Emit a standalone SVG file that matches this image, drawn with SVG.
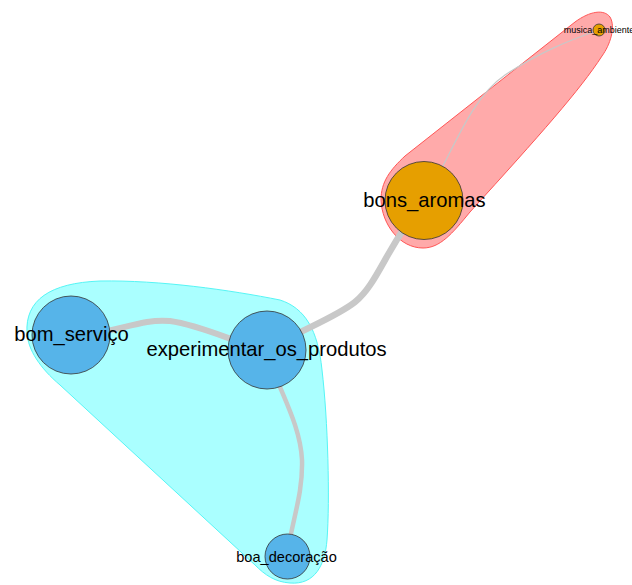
<svg xmlns="http://www.w3.org/2000/svg" width="632" height="585" viewBox="0 0 632 585">
<style>
.hull-blue{fill:#AAFFFF;stroke:#55F5F5;stroke-width:1}
.hull-red{fill:#FFAAAA;stroke:#FF5555;stroke-width:1}
.edge{fill:none;stroke:#C8C8C8;stroke-linecap:butt}
.node-blue{fill:#56B4E9;stroke:#333;stroke-width:0.8}
.node-orange{fill:#E69F00;stroke:#333;stroke-width:0.8}
.lbl{font-family:"Liberation Sans",Arial,sans-serif;fill:#000;text-anchor:middle}
</style>
<rect width="632" height="585" fill="#FFFFFF"/>
<g id="hulls">
<path class="hull-blue" d="M27,333 C25,300 50,283 100,281 C160,280 230,290 280,300 C305,308 318,330 322,370 C328,420 330,500 327,540 C325,565 315,585 290,583 C275,582 265,575 255,565 L60,385 C40,368 28,350 27,333 Z"/>
<path class="hull-red" d="M381,200 C381,182 390,170 405,156 L575,22 C590,11 604,9 610,17 C616,27 610,45 602,56 C580,90 540,135 470,212 C452,234 440,248 423,248 C400,248 382,225 381,200 Z"/>
</g>
<g id="connectors">
<path class="edge" stroke-width="6" d="M72,336 C115,334 140,318 170,321 C205,326 240,345 267,350"/>
<path class="edge" stroke-width="6.5" d="M267,350 C300,330 335,318 355,302 C378,283 385,250 424,200"/>
<path class="edge" stroke-width="4.5" d="M267,350 C275,385 300,420 302,460 C303,495 292,520 287,556"/>
<path class="edge" stroke-width="1.3" stroke="#D0D0D0" d="M424,200 C450,160 468,100 505,75 C540,52 570,40 599,30"/>
</g>
<g id="node-bom_servico">
<circle class="node-blue" cx="71" cy="335" r="39"/>
<text class="lbl" x="71.5" y="341" font-size="20.2">bom_serviço</text>
</g>
<g id="node-experimentar_os_produtos">
<circle class="node-blue" cx="267" cy="350" r="39"/>
<text class="lbl" x="266.5" y="356" font-size="20.2">experimentar_os_produtos</text>
</g>
<g id="node-boa_decoracao">
<circle class="node-blue" cx="287.5" cy="556.5" r="22.5"/>
<text class="lbl" x="286.5" y="561.5" font-size="14.6">boa_decoração</text>
</g>
<g id="node-bons_aromas">
<circle class="node-orange" cx="424" cy="200.5" r="39"/>
<text class="lbl" x="424.5" y="206.5" font-size="20.2">bons_aromas</text>
</g>
<g id="node-musica_ambiente">
<circle class="node-orange" cx="599" cy="30" r="6"/>
<text class="lbl" x="599" y="33.3" font-size="9">musica_ambiente</text>
</g>
</svg>
